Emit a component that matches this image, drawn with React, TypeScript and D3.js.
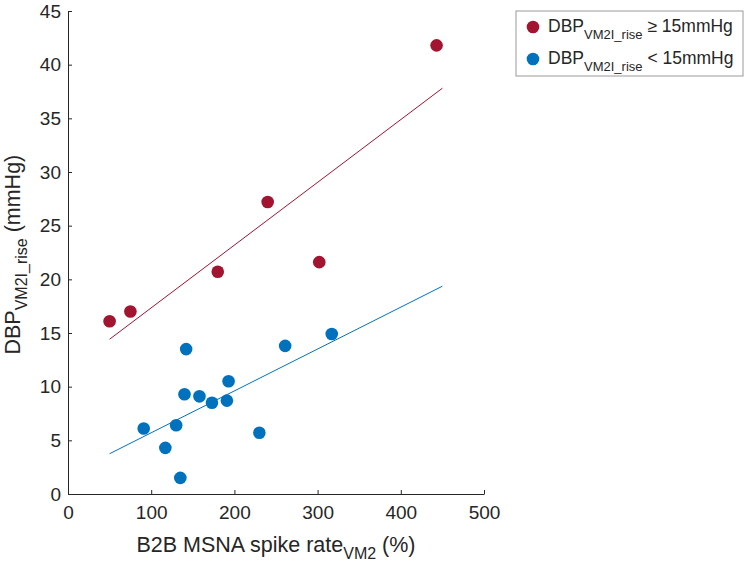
import React, { useEffect, useRef } from "react";
import { scaleLinear, axisBottom, axisLeft, select, line, mean, sum } from "d3";

// group with DBP rise >= 15 mmHg
const highX = [50, 75, 180, 240, 302, 443];
const highY = [16.1, 17.0, 20.7, 27.2, 21.6, 41.8];

// group with DBP rise < 15 mmHg
const lowX = [91, 117, 130, 135, 142, 140, 158, 173, 191, 193, 230, 261, 317];
const lowY = [6.1, 4.3, 6.4, 1.5, 13.5, 9.3, 9.1, 8.5, 8.7, 10.5, 5.7, 13.8, 14.9];

const xTicks = [0, 100, 200, 300, 400, 500];
const yTicks = [0, 5, 10, 15, 20, 25, 30, 35, 40, 45];
const fitRange = [50, 450];

const RED = "#A2142F";
const BLUE = "#0072BD";
const AXIS = "#262626";
const FONT = "Arial, 'Liberation Sans', Helvetica, sans-serif";

// least squares fit, returns [slope, intercept]
function fit(xs: number[], ys: number[]) {
  const mx = mean(xs) as number;
  const my = mean(ys) as number;
  const sxy = sum(xs.map((x, i) => (x - mx) * (ys[i] - my)));
  const sxx = sum(xs.map(x => (x - mx) * (x - mx)));
  const b = sxy / sxx;
  return [b, my - b * mx];
}

export default function App() {
  const width = 749,
    height = 565;
  const margin = { top: 11, right: 265, bottom: 71, left: 68 };
  const innerWidth = width - margin.left - margin.right;
  const innerHeight = height - margin.top - margin.bottom;

  const xScale = scaleLinear().domain([0, 500]).range([0, innerWidth]);
  const yScale = scaleLinear().domain([0, 45]).range([innerHeight, 0]);

  const xAxisRef = useRef<SVGGElement>(null);
  const yAxisRef = useRef<SVGGElement>(null);

  useEffect(() => {
    const xAxis = axisBottom(xScale)
      .tickValues(xTicks)
      .tickSizeInner(-4)
      .tickSizeOuter(0)
      .tickPadding(12);
    const yAxis = axisLeft(yScale)
      .tickValues(yTicks)
      .tickSizeInner(-4)
      .tickSizeOuter(0)
      .tickPadding(7);

    for (const [ref, ax] of [
      [xAxisRef, xAxis],
      [yAxisRef, yAxis]
    ] as const) {
      const g = select(ref.current!);
      g.call(ax as any);
      g.selectAll("path, line").attr("stroke", AXIS).attr("stroke-width", 1);
      g.selectAll("text")
        .attr("fill", AXIS)
        .style("font-family", FONT)
        .style("font-size", "19px");
    }
  }, []);

  const fitLine = (xs: number[], ys: number[]) => {
    const [b, a] = fit(xs, ys);
    return line<number>()
      .x(d => xScale(d))
      .y(d => yScale(a + b * d))(fitRange);
  };

  const legendRows = [
    { color: RED, rel: " \u2265 15mmHg" },
    { color: BLUE, rel: " < 15mmHg" }
  ];

  return (
    <svg
      width={width}
      height={height}
      style={{ position: "absolute", left: 0, top: 0, background: "#fff" }}
    >
      <g transform={`translate(${margin.left}, ${margin.top})`}>
        <path d={fitLine(highX, highY)!} fill="none" stroke={RED} strokeWidth={1} />
        <path d={fitLine(lowX, lowY)!} fill="none" stroke={BLUE} strokeWidth={1} />

        {highX.map((x, i) => (
          <circle key={"h" + i} cx={xScale(x)} cy={yScale(highY[i])} r={6.3} fill={RED} />
        ))}
        {lowX.map((x, i) => (
          <circle key={"l" + i} cx={xScale(x)} cy={yScale(lowY[i])} r={6.3} fill={BLUE} />
        ))}

        <g ref={xAxisRef} transform={`translate(0, ${innerHeight})`} />
        <g ref={yAxisRef} />

        <text
          x={innerWidth / 2}
          y={innerHeight + 58}
          textAnchor="middle"
          fill={AXIS}
          style={{ fontFamily: FONT, fontSize: 21.5 }}
        >
          B2B MSNA spike rate
          <tspan dy={7} fontSize={16}>VM2</tspan>
          <tspan dy={-7}> (%)</tspan>
        </text>

        <text
          transform={`translate(-48, ${yScale(22.3)}) rotate(-90)`}
          textAnchor="middle"
          fill={AXIS}
          style={{ fontFamily: FONT, fontSize: 21.5 }}
        >
          DBP
          <tspan dy={7} fontSize={16}>VM2I_rise</tspan>
          <tspan dy={-7}> (mmHg)</tspan>
        </text>
      </g>

      <g transform="translate(516, 11)">
        <rect width={227} height={65} fill="#fff" stroke="#9a9a9a" strokeWidth={1} />
        {legendRows.map((r, i) => (
          <g key={i} transform={`translate(0, ${16 + i * 32})`}>
            <circle cx={17} cy={0} r={6.3} fill={r.color} />
            <text x={32} y={5} fill={AXIS} style={{ fontFamily: FONT, fontSize: 17.5 }}>
              DBP
              <tspan dy={7} fontSize={13}>VM2I_rise</tspan>
              <tspan dy={-7}>{r.rel}</tspan>
            </text>
          </g>
        ))}
      </g>
    </svg>
  );
}
